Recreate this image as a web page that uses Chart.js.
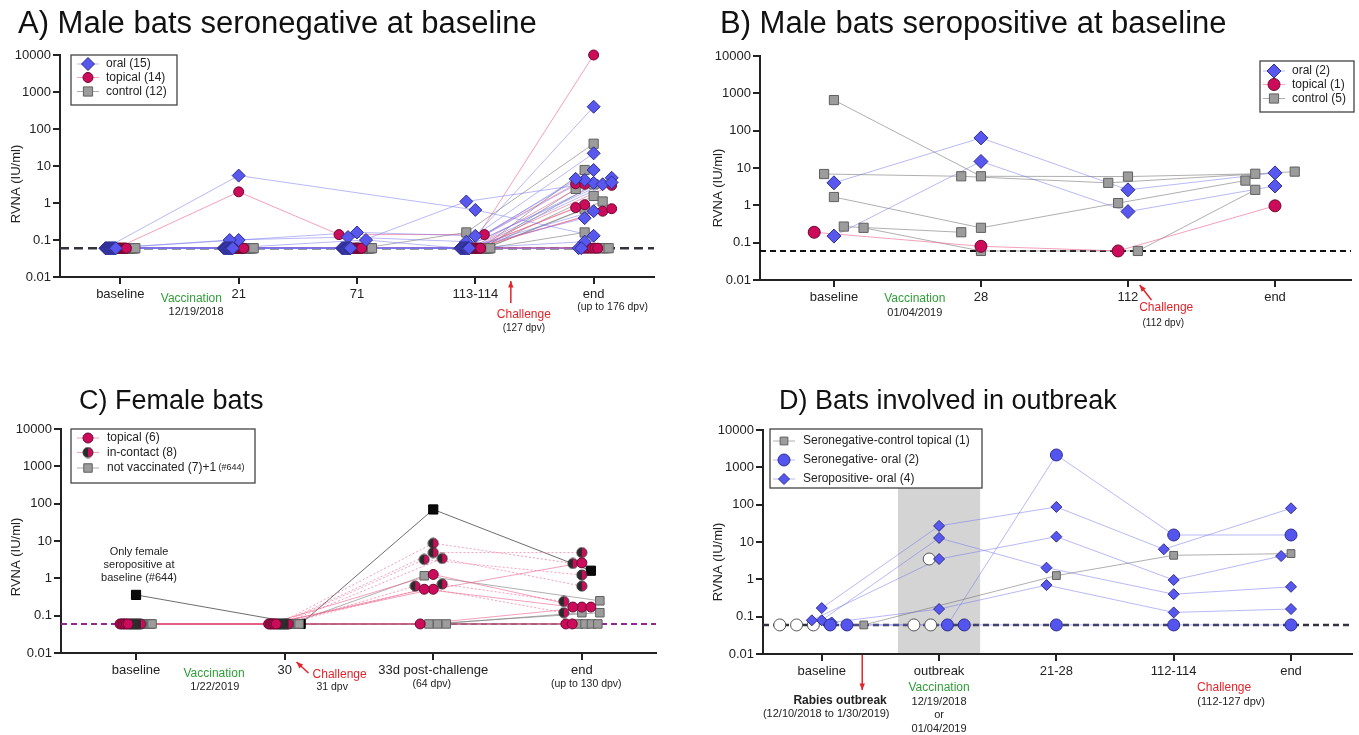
<!DOCTYPE html>
<html>
<head>
<meta charset="utf-8">
<script src="https://cdn.jsdelivr.net/npm/chart.js@4.4.1/dist/chart.umd.min.js"></script>
<style>
  body { margin: 0; background: #fff; width: 1359px; height: 735px; position: relative; overflow: hidden; }
  canvas { position: absolute; }
</style>
</head>
<body>
<canvas id="cA" width="680" height="367" style="left:0;top:0;width:680px;height:367px"></canvas>
<canvas id="cB" width="679" height="367" style="left:680px;top:0;width:679px;height:367px"></canvas>
<canvas id="cC" width="680" height="368" style="left:0;top:367px;width:680px;height:368px"></canvas>
<canvas id="cD" width="679" height="368" style="left:680px;top:367px;width:679px;height:368px"></canvas>
<script>
// detection limit (RVNA IU/ml), used as a value below
const L = 0.06;
const Y_TICKS = [0.01, 0.1, 1, 10, 100, 1000, 10000];

// ---- A) male bats seronegative at baseline, one row per bat ----
const catsA = ['baseline', '21', '71', '113-114', 'end'];
const oralA = [
  [L, 5.5, null, 0.65, 0.13],
  [L, L, L, 1.1, 3.5],
  [L, 0.1, 0.16, 0.13, 400],
  [L, 0.1, 0.12, 0.09, 22],
  [L, L, 0.1, L, 7.8],
  [L, L, L, L, 4.2],
  [L, L, L, L, 3.2],
  [L, L, L, L, 4.5],
  [L, L, L, L, 4.8],
  [L, L, L, L, 0.6],
  [L, L, L, L, 0.39],
  [L, L, L, L, 0.09],
  [L, L, L, L, L],
  [L, L, L, L, L],
  [L, L, L, L, 3.6]
];
const topicalA = [
  [L, 2, 0.14, 0.14, 3.3],
  [L, L, L, L, 10000],
  [L, L, L, L, 3.2],
  [L, L, L, L, 3.0],
  [L, L, L, L, 0.9],
  [L, L, L, L, 0.6],
  [L, L, L, L, 0.75],
  [L, L, L, L, 0.7],
  [L, L, L, L, L],
  [L, L, L, L, L],
  [L, L, L, L, L],
  [L, L, L, L, L],
  [L, L, L, L, L],
  [L, L, L, L, L]
];
const controlA = [
  [L, L, L, 0.16, 40],
  [L, L, L, L, 7.8],
  [L, L, L, L, 3.2],
  [L, L, L, L, 2.4],
  [L, L, L, L, 1.55],
  [L, L, L, L, 1.1],
  [L, L, L, L, 0.68],
  [L, L, L, L, 0.16],
  [L, L, L, L, L],
  [L, L, L, L, L],
  [L, L, L, L, L],
  [L, L, L, L, L]
];

// ---- B) male bats seropositive at baseline ----
const catsB = ['baseline', '28', '112', 'end'];
const oralB = [
  [0.15, 15, 0.68, 3.3],
  [4, 64, 2.6, 7.4]
];
const topicalB = [
  [0.19, 0.08, L, 0.97]
];
const controlB = [
  [660, 6, 5.9, 7],
  [6.9, 6, 4, 8],
  [1.67, 0.25, 1.15, 4.6],
  [0.27, 0.19, null, null],
  [0.25, L, L, 2.6]
];

// ---- C) female bats ----
const catsC = ['baseline', '30', '33d post-challenge', 'end'];
const topicalC = [
  [L, L, 1.27, 0.17],
  [L, L, 0.51, 2.6],
  [L, L, 0.51, 0.17],
  [L, L, L, 0.17],
  [L, L, null, L],
  [L, L, null, L]
];
const contactC = [
  [L, L, 8.7, 2.5],
  [L, L, 4.9, 4.9],
  [L, L, 3.2, 1.23],
  [L, L, 3.4, 0.62],
  [L, L, 0.7, 0.24],
  [L, L, 0.62, 0.12],
  [L, L, null, null],
  [L, L, null, null]
];
const notVaccC = [
  [L, L, 1.17, 0.25],
  [L, L, L, 0.12],
  [L, L, L, 0.12],
  [L, L, L, L],
  [L, L, null, L],
  [L, L, null, L],
  [L, L, null, L]
];
const bat644C = [
  [0.36, L, 70, 1.6]
];

// ---- D) bats involved in outbreak ----
const catsD = ['baseline', 'outbreak', '21-28', '112-114', 'end'];
const controlTopD = [
  [L, null, 1.26, 4.4, 4.9]
];
const seronegOralD = [
  [L, L, 2140, 15.4, 15.4],
  [L, L, L, L, L]
];
const seroposOralD = [
  [0.17, 27, 87, 6.4, 80],
  [0.08, 12.8, 2.05, 0.4, 0.63],
  [0.08, 3.5, 13.9, 0.96, 4.2],
  [0.07, 0.16, 0.7, 0.13, 0.16]
];
const openD = [
  [L, L, null, null, null],
  [L, 3.5, null, null, null],
  [L, L, null, null, null]
];

const FONT = "'Liberation Sans', Arial, Helvetica, sans-serif";
const GREEN = '#2f9e38', RED = '#e3242b', DARK = '#222';
Chart.defaults.font.family = FONT;
Chart.defaults.color = DARK;

function halfDot(r) {
  const c = document.createElement('canvas');
  const s = Math.ceil(2 * r + 2);
  c.width = c.height = s;
  const g = c.getContext('2d'), m = s / 2;
  g.beginPath(); g.moveTo(m, m); g.arc(m, m, r, Math.PI / 2, Math.PI * 1.5); g.fillStyle = '#2a2a2a'; g.fill();
  g.beginPath(); g.moveTo(m, m); g.arc(m, m, r, -Math.PI / 2, Math.PI / 2); g.fillStyle = '#cc0c5a'; g.fill();
  g.beginPath(); g.arc(m, m, r, 0, Math.PI * 2); g.strokeStyle = '#333'; g.lineWidth = 1; g.stroke();
  return c;
}

const LOOK = {
  oral:    { style: 'rectRot', fill: '#5858ee', stroke: '#2e2e90', line: 'rgba(115,115,240,0.5)' },
  topical: { style: 'circle', fill: '#cc0c5a', stroke: '#6d0831', line: 'rgba(236,96,138,0.6)' },
  control: { style: 'rect', fill: '#9c9c9c', stroke: '#606060', line: 'rgba(110,110,110,0.55)' },
  contact: { style: 'half', fill: '#cc0c5a', stroke: '#333', line: 'rgba(236,96,138,0.6)', dash: [2, 2] },
  black:   { style: 'rect', fill: '#0a0a0a', stroke: '#000', line: 'rgba(60,60,60,0.75)' },
  open:    { style: 'circle', fill: '#ffffff', stroke: '#555', line: null },
  oralDot: { style: 'circle', fill: '#5454ee', stroke: '#2e2e90', line: 'rgba(115,115,240,0.5)' }
};

// spread points of one timepoint sideways so they do not sit on top of each other
function swarm(p) {
  const a = p.area;
  const pxCat = (a.right - a.left) / (p.xMax - p.xMin);
  const pxDec = (a.bottom - a.top) / 6;
  const xs = p.groups.map(g => g.rows.map(r => r.map(() => null)));
  const order = p.lodOrder || p.groups.map((g, i) => i);
  p.cats.forEach((c, ci) => {
    const lodPts = [], pts = [];
    order.forEach(gi => p.groups[gi].rows.forEach((r, ri) => { if (r[ci] === L) lodPts.push({ gi, ri }); }));
    p.groups.forEach((g, gi) => g.rows.forEach((r, ri) => {
      const v = r[ci];
      if (v != null && v !== L) pts.push({ gi, ri, v });
    }));
    const n = lodPts.length;
    const st = n > 1 ? Math.min(p.swarm.lodStep, 2 * p.swarm.lodHalf / (n - 1)) : 0;
    lodPts.forEach((q, k) => { xs[q.gi][q.ri][ci] = ci + (k - (n - 1) / 2) * st / pxCat; });
    const done = [];
    pts.forEach(q => {
      let best = 0, bestD = -1;
      for (let k = 0; k <= 2 * p.swarm.maxK; k++) {
        const off = (k % 2 ? -1 : 1) * Math.ceil(k / 2) * p.swarm.step;
        let dmin = Infinity;
        done.forEach(d => {
          const dy = (Math.log10(q.v) - Math.log10(d.v)) * pxDec;
          dmin = Math.min(dmin, Math.hypot(off - d.off, dy));
        });
        if (dmin >= p.swarm.minDist) { best = off; break; }
        if (dmin > bestD) { bestD = dmin; best = off; }
      }
      q.off = best;
      done.push(q);
      xs[q.gi][q.ri][ci] = ci + best / pxCat;
    });
  });
  return xs;
}

function marker(ctx, look, r, x, y) {
  if (look.style === 'half') { const im = look.img; ctx.drawImage(im, x - im.width / 2, y - im.height / 2); return; }
  ctx.fillStyle = look.fill; ctx.strokeStyle = look.stroke; ctx.lineWidth = 1;
  ctx.beginPath();
  if (look.style === 'circle') ctx.arc(x, y, r, 0, Math.PI * 2);
  else if (look.style === 'rectRot') { ctx.moveTo(x, y - r); ctx.lineTo(x + r, y); ctx.lineTo(x, y + r); ctx.lineTo(x - r, y); ctx.closePath(); }
  else { const h = r * Math.SQRT1_2; ctx.rect(x - h, y - h, 2 * h, 2 * h); }
  ctx.fill(); ctx.stroke();
}

function arrow(ctx, x1, y1, x2, y2, color) {
  ctx.strokeStyle = color; ctx.fillStyle = color; ctx.lineWidth = 1.5;
  ctx.beginPath(); ctx.moveTo(x1, y1); ctx.lineTo(x2, y2); ctx.stroke();
  const an = Math.atan2(y2 - y1, x2 - x1), h = 7;
  ctx.beginPath();
  ctx.moveTo(x2, y2);
  ctx.lineTo(x2 - h * Math.cos(an - 0.4), y2 - h * Math.sin(an - 0.4));
  ctx.lineTo(x2 - h * Math.cos(an + 0.4), y2 - h * Math.sin(an + 0.4));
  ctx.closePath(); ctx.fill();
}

function makePanel(p) {
  const xs = swarm(p);
  const datasets = [];
  datasets.push({
    data: [{ x: p.xMin, y: L }, { x: p.xMax, y: L }], showLine: true, pointRadius: 0,
    borderColor: p.lod.color, borderWidth: p.lod.width, borderDash: p.lod.dash, order: 50, clip: false
  });
  p.groups.forEach((g, gi) => {
    const look = g.look;
    if (look.style === 'half') look.img = halfDot(g.r);
    if (look.line) g.rows.forEach((r, ri) => {
      const pts = r.map((v, ci) => v == null ? null : { x: xs[gi][ri][ci], y: v }).filter(Boolean);
      datasets.push({
        data: pts, showLine: true, pointRadius: 0, borderColor: look.line, borderWidth: 1,
        borderDash: look.dash || [], order: 40, clip: false
      });
    });
    const pts = [];
    g.rows.forEach((r, ri) => r.forEach((v, ci) => { if (v != null) pts.push({ x: xs[gi][ri][ci], y: v }); }));
    datasets.push({
      data: pts, showLine: false,
      pointStyle: look.style === 'half' ? look.img : look.style,
      pointRadius: g.r, pointBackgroundColor: look.fill, pointBorderColor: look.stroke,
      pointBorderWidth: 1, order: 1 + gi, clip: false
    });
  });

  const deco = {
    id: 'deco',
    beforeDatasetsDraw(chart) {
      if (!p.band) return;
      const { ctx, chartArea: a, scales: { x } } = chart;
      const x1 = x.getPixelForValue(p.band.from), x2 = x.getPixelForValue(p.band.to);
      ctx.save();
      ctx.fillStyle = '#d4d4d4';
      ctx.fillRect(x1, a.top, x2 - x1, a.bottom - a.top - 1);
      ctx.restore();
    },
    afterDraw(chart) {
      const { ctx, chartArea: a, scales: { x } } = chart;
      ctx.save();
      // panel title
      ctx.font = p.titleSize + 'px ' + FONT; ctx.fillStyle = '#111';
      ctx.textAlign = 'left'; ctx.textBaseline = 'alphabetic';
      ctx.fillText(p.title, p.titleX, p.titleY);
      // y axis title
      ctx.save();
      ctx.translate(p.yTitle.x, p.yTitle.y); ctx.rotate(-Math.PI / 2);
      ctx.font = '13px ' + FONT; ctx.textAlign = 'center'; ctx.textBaseline = 'middle'; ctx.fillStyle = DARK;
      ctx.fillText('RVNA (IU/ml)', 0, 0);
      ctx.restore();
      // notes under the axis
      ctx.textAlign = 'center'; ctx.textBaseline = 'middle';
      p.notes.forEach(n => {
        ctx.font = (n.b ? 'bold ' : '') + n.s + 'px ' + FONT;
        ctx.fillStyle = n.c;
        ctx.fillText(n.t, x.getPixelForValue(n.x), a.bottom + n.dy);
      });
      p.arrows.forEach(r => arrow(ctx, x.getPixelForValue(r[0]), a.bottom + r[1], x.getPixelForValue(r[2]), a.bottom + r[3], RED));
      // legend
      const lg = p.legend;
      ctx.fillStyle = '#fff'; ctx.strokeStyle = '#444'; ctx.lineWidth = 1.3;
      ctx.fillRect(lg.box[0], lg.box[1], lg.box[2], lg.box[3]);
      ctx.strokeRect(lg.box[0], lg.box[1], lg.box[2], lg.box[3]);
      lg.rows.forEach(row => {
        const g = p.groups[row[0]], y = row[2];
        ctx.strokeStyle = g.look.line || '#999'; ctx.lineWidth = 1; ctx.setLineDash([]);
        ctx.beginPath(); ctx.moveTo(lg.mx - 11, y); ctx.lineTo(lg.mx + 11, y); ctx.stroke();
        marker(ctx, g.look, g.r, lg.mx, y);
        ctx.textAlign = 'left'; ctx.textBaseline = 'middle'; ctx.fillStyle = DARK;
        let tx = lg.tx;
        row[1].forEach(part => {
          ctx.font = part[1] + 'px ' + FONT;
          ctx.fillText(part[0], tx, y);
          tx += ctx.measureText(part[0]).width;
        });
      });
      ctx.restore();
    }
  };

  const a = p.area;
  const axisGrid = { display: true, drawOnChartArea: false, drawTicks: true, tickLength: 7, color: '#222', lineWidth: 2 };
  new Chart(document.getElementById(p.id), {
    type: 'scatter',
    data: { datasets },
    options: {
      responsive: false, animation: false, events: [],
      layout: { padding: { left: 0, right: p.W - a.right, top: a.top, bottom: 0 } },
      plugins: { legend: { display: false }, tooltip: { enabled: false } },
      scales: {
        x: {
          type: 'linear', min: p.xMin, max: p.xMax,
          afterBuildTicks: s => { s.ticks = p.cats.map((c, i) => ({ value: i })); },
          afterFit: s => { s.height = p.H - a.bottom; },
          ticks: { callback: v => p.cats[v], font: { size: 13 }, color: DARK, padding: 3, maxRotation: 0, autoSkip: false },
          grid: axisGrid,
          border: { display: true, color: '#222', width: 2 }
        },
        y: {
          type: 'logarithmic', min: 0.01, max: 10000,
          afterBuildTicks: s => { s.ticks = Y_TICKS.map(v => ({ value: v })); },
          afterFit: s => { s.width = a.left; },
          ticks: { callback: v => String(v), font: { size: 13 }, color: DARK, padding: 2, autoSkip: false },
          grid: axisGrid,
          border: { display: true, color: '#222', width: 2 }
        }
      }
    },
    plugins: [deco]
  });
}

makePanel({
  id: 'cA', W: 680, H: 367, area: { left: 60, right: 654, top: 55, bottom: 277 }, xMin: -0.51, xMax: 4.51,
  cats: catsA,
  groups: [
    { rows: oralA, look: LOOK.oral, r: 6.5 },
    { rows: topicalA, look: LOOK.topical, r: 5 },
    { rows: controlA, look: LOOK.control, r: 6.5 }
  ],
  lod: { color: '#33333f', width: 2.5, dash: [9, 5] },
  swarm: { lodStep: 8, lodHalf: 15, step: 9, minDist: 9, maxK: 2 },
  title: 'A) Male bats seronegative at baseline', titleSize: 31, titleX: 18, titleY: 33,
  yTitle: { x: 16, y: 184 },
  legend: { box: [71, 55, 106, 50], mx: 88, tx: 106, rows: [
    [0, [['oral (15)', 12]], 64], [1, [['topical (14)', 12]], 77.5], [2, [['control (12)', 12]], 91.5]] },
  notes: [
    { t: 'Vaccination', x: 0.60, dy: 22, c: GREEN, s: 12 },
    { t: '12/19/2018', x: 0.64, dy: 35, c: DARK, s: 11 },
    { t: 'Challenge', x: 3.41, dy: 38, c: RED, s: 12 },
    { t: '(127 dpv)', x: 3.41, dy: 51, c: DARK, s: 10 },
    { t: '(up to 176 dpv)', x: 4.16, dy: 30, c: DARK, s: 10.5 }
  ],
  arrows: [[3.30, 26, 3.30, 4]]
});

makePanel({
  id: 'cB', W: 679, H: 367, area: { left: 80, right: 679, top: 56, bottom: 280 }, xMin: -0.503, xMax: 3.517,
  cats: catsB,
  groups: [
    { rows: oralB, look: LOOK.oral, r: 7 },
    { rows: topicalB, look: LOOK.topical, r: 6 },
    { rows: controlB, look: LOOK.control, r: 6.5 }
  ],
  lod: { color: '#111', width: 2, dash: [6, 4] },
  swarm: { lodStep: 20, lodHalf: 30, step: 10, minDist: 12, maxK: 3 },
  title: 'B) Male bats seropositive at baseline', titleSize: 31, titleX: 40, titleY: 33,
  yTitle: { x: 38, y: 188 },
  legend: { box: [580, 61, 94, 51], mx: 594, tx: 612, rows: [
    [0, [['oral (2)', 12]], 71], [1, [['topical (1)', 12]], 84.5], [2, [['control (5)', 12]], 98.5]] },
  notes: [
    { t: 'Vaccination', x: 0.55, dy: 19, c: GREEN, s: 12 },
    { t: '01/04/2019', x: 0.55, dy: 33, c: DARK, s: 11 },
    { t: 'Challenge', x: 2.26, dy: 28, c: RED, s: 12 },
    { t: '(112 dpv)', x: 2.24, dy: 43, c: DARK, s: 10 }
  ],
  arrows: [[2.16, 20, 2.08, 5]]
});

makePanel({
  id: 'cC', W: 680, H: 368, area: { left: 61, right: 656, top: 62, bottom: 286 }, xMin: -0.505, xMax: 3.499,
  cats: catsC,
  groups: [
    { rows: topicalC, look: LOOK.topical, r: 5 },
    { rows: contactC, look: LOOK.contact, r: 5 },
    { rows: notVaccC, look: LOOK.control, r: 6 },
    { rows: bat644C, look: LOOK.black, r: 6.5 }
  ],
  lod: { color: '#8e2a90', width: 2, dash: [6, 4] },
  swarm: { lodStep: 8.7, lodHalf: 16, step: 9, minDist: 8, maxK: 2 },
  title: 'C) Female bats', titleSize: 27, titleX: 79, titleY: 42,
  yTitle: { x: 16, y: 190 },
  legend: { box: [71, 62, 184, 54], mx: 88, tx: 107, rows: [
    [0, [['topical (6)', 12]], 71], [1, [['in-contact (8)', 12]], 85.5],
    [2, [['not vaccinated (7)+1', 12], [' (#644)', 9]], 101]] },
  notes: [
    { t: 'Vaccination', x: 0.525, dy: 21, c: GREEN, s: 12 },
    { t: '1/22/2019', x: 0.53, dy: 34, c: DARK, s: 11 },
    { t: 'Challenge', x: 1.37, dy: 22, c: RED, s: 12 },
    { t: '31 dpv', x: 1.32, dy: 34, c: DARK, s: 10.5 },
    { t: '(64 dpv)', x: 1.99, dy: 31, c: DARK, s: 10.5 },
    { t: '(up to 130 dpv)', x: 3.03, dy: 31, c: DARK, s: 10.5 },
    { t: 'Only female', x: 0.02, dy: -101, c: DARK, s: 11 },
    { t: 'seropositive at', x: 0.02, dy: -88, c: DARK, s: 11 },
    { t: 'baseline (#644)', x: 0.02, dy: -75, c: DARK, s: 11 }
  ],
  arrows: [[1.16, 20, 1.08, 9]]
});

makePanel({
  id: 'cD', W: 679, H: 368, area: { left: 83, right: 679, top: 63, bottom: 287 }, xMin: -0.501, xMax: 4.52,
  cats: catsD,
  groups: [
    { rows: controlTopD, look: LOOK.control, r: 5.5 },
    { rows: seronegOralD, look: LOOK.oralDot, r: 6 },
    { rows: seroposOralD, look: LOOK.oral, r: 5.5 },
    { rows: openD, look: LOOK.open, r: 6 }
  ],
  lodOrder: [3, 1, 0, 2],
  band: { from: 0.65, to: 1.35 },
  lod: { color: '#33333f', width: 2.5, dash: [6, 4] },
  swarm: { lodStep: 17, lodHalf: 45, step: 10, minDist: 10, maxK: 3 },
  title: 'D) Bats involved in outbreak', titleSize: 27, titleX: 99, titleY: 42,
  yTitle: { x: 38, y: 195 },
  legend: { box: [90, 62, 212, 59], mx: 104, tx: 123, rows: [
    [0, [['Seronegative-control topical (1)', 12]], 74], [1, [['Seronegative- oral (2)', 12]], 93],
    [2, [['Seropositive- oral (4)', 12]], 112]] },
  notes: [
    { t: 'Vaccination', x: 1.0, dy: 34, c: GREEN, s: 12 },
    { t: '12/19/2018', x: 1.0, dy: 48, c: DARK, s: 11 },
    { t: 'or', x: 1.0, dy: 61, c: DARK, s: 11 },
    { t: '01/04/2019', x: 1.0, dy: 75, c: DARK, s: 11 },
    { t: 'Challenge', x: 3.43, dy: 34, c: RED, s: 12 },
    { t: '(112-127 dpv)', x: 3.49, dy: 48, c: DARK, s: 11 },
    { t: 'Rabies outbreak', x: 0.156, dy: 47, c: DARK, s: 12, b: true },
    { t: '(12/10/2018 to 1/30/2019)', x: 0.038, dy: 60, c: DARK, s: 11 }
  ],
  arrows: [[0.345, 1, 0.345, 36]]
});
</script>
</body>
</html>
